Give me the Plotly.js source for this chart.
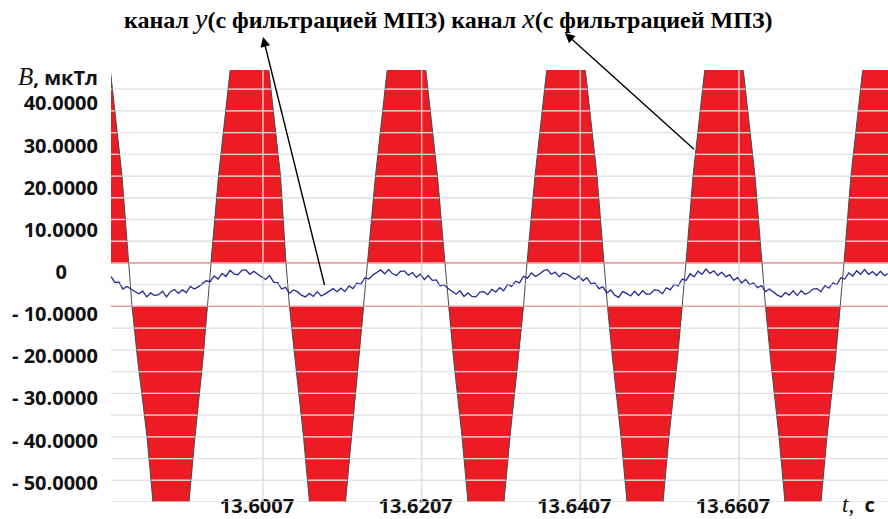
<!DOCTYPE html>
<html><head><meta charset="utf-8">
<script src="https://cdn.plot.ly/plotly-3.0.1.min.js"></script>
<style>html,body{margin:0;padding:0;background:#fff}#chart{width:888px;height:519px}</style>
</head><body><div id="chart"></div>
<script>
// Channel x (red, filtered) waveform: time (s) and B (µT)
const redT = [13.57902, 13.58148, 13.58293, 13.58375,
  13.58419, 13.58488, 13.58608, 13.58683, 13.58910, 13.59137, 13.59213, 13.59314, 13.59370, 13.59408,
  13.59509, 13.59654, 13.59900, 13.60146, 13.60291, 13.60360,
  13.60404, 13.60473, 13.60581, 13.60656, 13.60883, 13.61110, 13.61186, 13.61280, 13.61343, 13.61387,
  13.61488, 13.61633, 13.61879, 13.62125, 13.62270, 13.62364,
  13.62409, 13.62472, 13.62579, 13.62654, 13.62881, 13.63108, 13.63184, 13.63291, 13.63354, 13.63398,
  13.63499, 13.63644, 13.63890, 13.64136, 13.64281, 13.64369,
  13.64413, 13.64476, 13.64583, 13.64659, 13.64886, 13.65113, 13.65188, 13.65295, 13.65358, 13.65402,
  13.65491, 13.65636, 13.65881, 13.66127, 13.66272, 13.66360,
  13.66405, 13.66468, 13.66575, 13.66650, 13.66877, 13.67104, 13.67180, 13.67287, 13.67350, 13.67394,
  13.67482, 13.67627, 13.67873, 13.68119];
const redB = [62, 44, 20, 0,
  -10, -22, -40, -55, -68, -55, -40, -22, -10, 0,
  20, 44, 62, 44, 20, 0,
  -10, -22, -40, -55, -68, -55, -40, -22, -10, 0,
  20, 44, 62, 44, 20, 0,
  -10, -22, -40, -55, -68, -55, -40, -22, -10, 0,
  20, 44, 62, 44, 20, 0,
  -10, -22, -40, -55, -68, -55, -40, -22, -10, 0,
  20, 44, 62, 44, 20, 0,
  -10, -22, -40, -55, -68, -55, -40, -22, -10, 0,
  20, 44, 62, 44];

// Channel y (blue, filtered): sampled every blueStep seconds from blueStart
const blueStart = 13.58154;
const blueStep = 0.0005;
const blueB = [-3.1,-4.5,-4.4,-6.0,-5.4,-5.9,-6.6,-7.1,-6.5,-7.8,
  -6.9,-7.5,-7.3,-6.5,-7.8,-6.6,-6.1,-7.0,-6.2,-6.8,
  -5.4,-6.0,-5.5,-4.9,-4.1,-4.3,-3.0,-3.7,-2.4,-3.1,
  -1.7,-2.5,-2.7,-1.7,-1.6,-2.6,-1.9,-2.6,-3.3,-3.8,
  -2.9,-4.4,-4.5,-6.0,-5.6,-7.0,-6.2,-6.6,-7.4,-7.8,
  -7.0,-7.7,-6.6,-7.6,-7.1,-6.4,-5.9,-6.6,-5.8,-6.6,
  -5.3,-5.9,-4.6,-4.9,-3.4,-3.7,-2.8,-2.2,-1.6,-2.5,
  -1.5,-2.5,-2.9,-1.9,-1.9,-2.8,-2.2,-3.3,-2.6,-3.8,
  -2.9,-4.0,-3.9,-5.3,-5.0,-5.9,-6.5,-7.2,-6.4,-7.7,
  -6.9,-7.7,-7.8,-6.7,-6.6,-7.3,-6.1,-6.7,-5.7,-6.4,
  -4.9,-5.4,-4.2,-4.6,-3.1,-3.5,-2.3,-3.1,-2.6,-1.8,
  -1.5,-2.6,-2.1,-3.2,-2.3,-2.6,-3.2,-3.8,-3.0,-4.1,
  -3.4,-4.8,-4.6,-5.9,-5.5,-6.9,-6.2,-7.4,-7.9,-6.6,
  -7.0,-7.6,-6.5,-7.5,-6.4,-7.2,-7.1,-6.2,-6.3,-7.1,
  -5.7,-6.2,-4.9,-5.3,-3.7,-4.0,-2.5,-3.2,-1.9,-2.6,
  -1.4,-2.4,-1.8,-2.9,-2.1,-3.2,-2.7,-4.0,-3.4,-4.6,
  -3.8,-5.0,-4.6,-5.7,-5.2,-6.6,-6.0,-6.7,-7.4,-7.8,
  -6.8,-7.4,-6.4,-7.5,-6.4,-7.2,-6.8,-6.0,-5.9,-6.6,
  -5.2,-5.8,-4.6,-5.0,-3.4,-3.7,-2.3,-3.0,-1.8,-2.6,
  -1.5,-2.6,-2.0,-2.9,-1.9,-2.9,-2.4];

// Threshold lines (µT)
const thresholds = [0, -10];

// Tick labels
const xTickVals = [13.6007, 13.6207, 13.6407, 13.6607];
const xTickText = ['13.6007', '13.6207', '13.6407', '13.6607'];
const yTickVals = [40, 30, 20, 10, 0, -10, -20, -30, -40, -50];
const yTickText = ['40.0000', '30.0000', '20.0000', '10.0000', '0\u00a0\u00a0\u00a0\u00a0\u00a0\u00a0',
  '- 10.0000', '- 20.0000', '- 30.0000', '- 40.0000', '- 50.0000'];

const RED = '#ed1c24';
const xRange = [13.58154, 13.67949];
const yRange = [-55, 44.4];
const gridStep = 5;
const blueT = blueB.map((_, i) => blueStart + i * blueStep);
const tEnds = [redT[0], redT[redT.length - 1]];

// grid lines (traces for the white areas, light shapes on top so they also show across the red fill)
const hgX = [], hgY = [];
const shapes = [];
for (let v = yRange[0]; v <= 40; v += gridStep) {
  hgX.push(xRange[0], xRange[1], null); hgY.push(v, v, null);
  shapes.push({ type: 'line', layer: 'above', xref: 'paper', x0: 0, x1: 1, yref: 'y', y0: v, y1: v,
    line: { color: 'rgba(232,232,232,0.5)', width: 1.2 } });
}
const vgX = [], vgY = [];
xTickVals.forEach(t => {
  vgX.push(t, t, null); vgY.push(yRange[0], yRange[1], null);
  shapes.push({ type: 'line', layer: 'above', xref: 'x', x0: t, x1: t, yref: 'paper', y0: 0, y1: 1,
    line: { color: 'rgba(232,232,232,0.5)', width: 1.2 } });
});

const traces = [
  { x: redT, y: redB.map(v => Math.max(v, thresholds[0])), type: 'scatter', mode: 'lines', zorder: 0,
    fill: 'tozeroy', fillcolor: RED, line: { width: 0, color: RED }, hoverinfo: 'skip' },
  { x: tEnds, y: tEnds.map(() => thresholds[1]), type: 'scatter', mode: 'lines', zorder: 0,
    line: { width: 0, color: RED }, hoverinfo: 'skip' },
  { x: redT, y: redB.map(v => Math.min(v, thresholds[1])), type: 'scatter', mode: 'lines', zorder: 0,
    fill: 'tonexty', fillcolor: RED, line: { width: 0, color: RED }, hoverinfo: 'skip' },
  { x: hgX, y: hgY, type: 'scatter', mode: 'lines', connectgaps: false, zorder: 1,
    line: { width: 1.3, color: 'rgba(218,218,218,0.8)' }, hoverinfo: 'skip' },
  { x: vgX, y: vgY, type: 'scatter', mode: 'lines', connectgaps: false, zorder: 1,
    line: { width: 1.3, color: 'rgba(205,205,205,0.8)' }, hoverinfo: 'skip' },
  { x: tEnds, y: tEnds.map(() => thresholds[0]), type: 'scatter', mode: 'lines', zorder: 2,
    line: { width: 1.2, color: 'rgb(232,80,84)' }, hoverinfo: 'skip' },
  { x: tEnds, y: tEnds.map(() => thresholds[1]), type: 'scatter', mode: 'lines', zorder: 2,
    line: { width: 1.2, color: 'rgb(232,80,84)' }, hoverinfo: 'skip' },
  { x: redT, y: redB, type: 'scatter', mode: 'lines', zorder: 2,
    line: { width: 1, color: '#4a4a4a' }, hoverinfo: 'skip' },
  { x: blueT, y: blueB, type: 'scatter', mode: 'lines', zorder: 3,
    line: { width: 1.3, color: '#262a92' }, hoverinfo: 'skip' },
  { x: [], y: [], type: 'scatter', mode: 'lines', yaxis: 'y2', hoverinfo: 'skip' }
];

const tickFont = { family: 'Open Sans, sans-serif', size: 20, weight: 700, color: '#111' };

const layout = {
  width: 888, height: 519,
  margin: { l: 111, r: 0, t: 70, b: 17 },
  paper_bgcolor: '#fff', plot_bgcolor: '#fff',
  showlegend: false,
  shapes: shapes,
  xaxis: { range: xRange, tickvals: xTickVals, ticktext: xTickText,
    showgrid: false, zeroline: false, showline: false, ticks: '', tickfont: tickFont,
    ticklabelshift: -6, ticklabelstandoff: -10 },
  yaxis: { range: yRange, showgrid: false, zeroline: false, showline: false,
    showticklabels: false, ticks: '' },
  yaxis2: { overlaying: 'y', side: 'left', anchor: 'x', range: [-54.56, 47.93],
    tickvals: yTickVals, ticktext: yTickText, showgrid: false, zeroline: false, showline: false,
    ticks: 'outside', ticklen: 8, tickcolor: 'rgba(0,0,0,0)', tickfont: tickFont },
  annotations: [
    { xref: 'paper', yref: 'paper', x: 0.01416, y: 1.1181, xanchor: 'left', yanchor: 'middle',
      showarrow: false,
      font: { family: 'Liberation Serif, serif', size: 24, color: '#000' },
      text: '<b>канал </b><span style="font-size:28px"><i>y</i></span><b>(с фильтрацией МПЗ) канал </b><span style="font-size:28px"><i>x</i></span><b>(с фильтрацией МПЗ)</b>' },
    { xref: 'paper', yref: 'paper', x: -0.01416, y: 0.9838, xanchor: 'right', yanchor: 'middle',
      showarrow: false, font: { family: 'Open Sans, sans-serif', size: 20, color: '#111' },
      text: '<span style="font-family:Liberation Serif;font-size:25px"><i>B</i></span><b>, мкТл</b>' },
    { xref: 'paper', yref: 'paper', x: 0.938, y: -0.0069, xanchor: 'left', yanchor: 'middle',
      showarrow: false, font: { family: 'Open Sans, sans-serif', size: 20, color: '#111' },
      text: '<span style="font-family:Liberation Serif;font-size:23px"><i>t</i>,</span>  <b>с</b>' },
    { xref: 'paper', yref: 'paper', x: 0.19562, y: 1.07639, ax: 64, ay: 258, text: ' ',
      showarrow: true, arrowhead: 2, arrowsize: 1.4, arrowwidth: 1.4, arrowcolor: '#000' },
    { xref: 'paper', yref: 'paper', x: 0.58430, y: 1.08565, ax: 132, ay: 119, text: ' ',
      showarrow: true, arrowhead: 2, arrowsize: 1.4, arrowwidth: 1.4, arrowcolor: '#000' }
  ]
};

Plotly.newPlot('chart', traces, layout, { displayModeBar: false, staticPlot: true });
</script>
</body></html>
